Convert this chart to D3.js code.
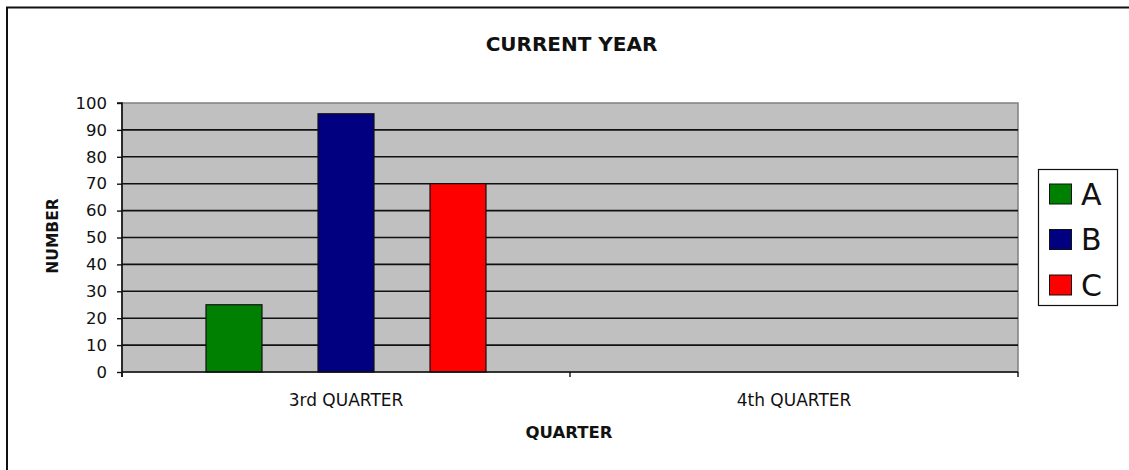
<!DOCTYPE html>
<html><head><meta charset="utf-8">
<script src="https://cdn.jsdelivr.net/npm/d3@7/dist/d3.min.js"></script>
<style>body{margin:0;background:#fff}svg{display:block}text{font-family:"DejaVu Sans",sans-serif}</style>
</head><body><svg id="c" width="1129" height="470"></svg>
<script>
const categories = ["3rd QUARTER", "4th QUARTER"];
const series = ["A", "B", "C"];
const valuesA = [25, null];
const valuesB = [96, null];
const valuesC = [70, null];
const yTicks = [0,10,20,30,40,50,60,70,80,90,100];
const colors = {A:"#008000", B:"#000080", C:"#ff0000"};
const seriesValues = {A: valuesA, B: valuesB, C: valuesC};

const svg = d3.select("#c");
const L = 122, R = 1018, T = 103, B = 372;

// outer frame (left & top edges visible)
svg.append("path").attr("d","M7,470V7.5H1129").attr("fill","none").attr("stroke","#111").attr("stroke-width",2);

const x0 = d3.scaleBand().domain(categories).range([L, R]).padding(0);
const x1 = d3.scaleBand().domain(series).range([56, 392]).paddingInner(0.5).paddingOuter(0.25);
const y = d3.scaleLinear().domain([0, 100]).range([B, T]);

// plot background
svg.append("rect").attr("x", L).attr("y", T).attr("width", R - L).attr("height", B - T)
  .attr("fill", "#c0c0c0").attr("stroke", "#808080").attr("stroke-width", 1.5);

// gridlines
svg.append("g").selectAll("line").data(yTicks.filter(d => d > 0 && d < 100)).join("line")
  .attr("x1", L).attr("x2", R).attr("y1", d => y(d)).attr("y2", d => y(d))
  .attr("stroke", "#111").attr("stroke-width", 1.6);

// bars
const rows = [];
categories.forEach((c, i) => series.forEach(s => { if (seriesValues[s][i] != null) rows.push({c, s, v: seriesValues[s][i]}); }));
svg.append("g").selectAll("rect").data(rows).join("rect")
  .attr("x", d => x0(d.c) + x1(d.s)).attr("width", x1.bandwidth())
  .attr("y", d => y(d.v)).attr("height", d => B - y(d.v))
  .attr("fill", d => colors[d.s]).attr("stroke", "#111").attr("stroke-width", 1.2);

// y axis
const ya = svg.append("g").attr("transform", `translate(${L},0)`)
  .call(d3.axisLeft(y).tickValues(yTicks).tickSize(5).tickPadding(10).tickFormat(d3.format("d")));
ya.select(".domain").attr("stroke", "#111").attr("stroke-width", 1.6).attr("d", `M-5,${T}H0V${B + 5}`);
ya.selectAll("line").attr("stroke", "#111").attr("stroke-width", 1.4);
ya.selectAll("text").attr("font-family", "DejaVu Sans").attr("font-size", 16.5).attr("fill", "#111");

// x axis
const xa = svg.append("g").attr("transform", `translate(0,${B})`)
  .call(d3.axisBottom(x0).tickSize(0).tickPadding(22));
xa.select(".domain").attr("stroke", "#111").attr("stroke-width", 1.6).attr("d", `M${L},0H${R}`);
xa.selectAll("text").attr("font-family", "DejaVu Sans").attr("font-size", 17).attr("fill", "#111");
xa.append("g").selectAll("line").data([L, ...categories.map(c => x0(c) + x0.bandwidth())]).join("line")
  .attr("x1", d => d).attr("x2", d => d).attr("y1", 0).attr("y2", 5).attr("stroke", "#111").attr("stroke-width", 1.4);

// titles
svg.append("text").attr("x", 571.5).attr("y", 51).attr("text-anchor", "middle")
  .attr("font-weight", "bold").attr("font-size", 20).attr("fill", "#111").text("CURRENT YEAR");
svg.append("text").attr("x", 569).attr("y", 438).attr("text-anchor", "middle")
  .attr("font-weight", "bold").attr("font-size", 16.5).attr("fill", "#111").text("QUARTER");
svg.append("text").attr("transform", "translate(58,236) rotate(-90)").attr("text-anchor", "middle")
  .attr("font-weight", "bold").attr("font-size", 15.5).attr("fill", "#111").text("NUMBER");

// legend
const lg = svg.append("g");
lg.append("rect").attr("x", 1038.5).attr("y", 169.5).attr("width", 79).attr("height", 136)
  .attr("fill", "#fff").attr("stroke", "#111").attr("stroke-width", 1.2);
const ly = d3.scalePoint().domain(series).range([194, 285]);
lg.selectAll("rect.sw").data(series).join("rect").attr("class", "sw")
  .attr("x", 1049.5).attr("y", d => ly(d) - 10).attr("width", 22).attr("height", 20)
  .attr("fill", d => colors[d]).attr("stroke", "#111").attr("stroke-width", 1);
lg.selectAll("text").data(series).join("text")
  .attr("x", 1081).attr("y", d => ly(d) + 10.5).attr("font-family", "Liberation Sans")
  .attr("font-size", 30).attr("fill", "#111").text(d => d);
</script></body></html>
